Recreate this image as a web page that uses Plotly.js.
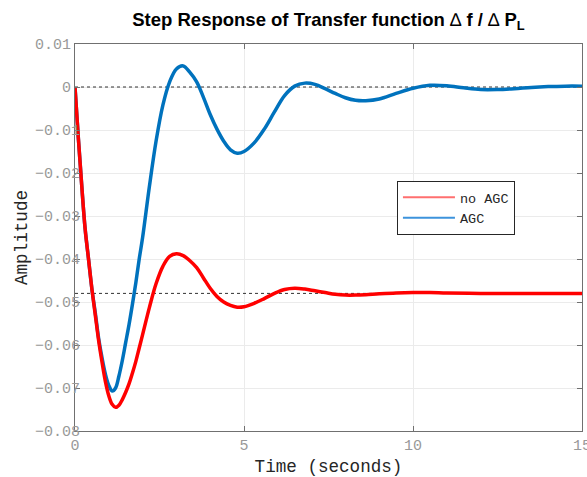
<!DOCTYPE html>
<html>
<head>
<meta charset="utf-8">
<script src="https://cdn.plot.ly/plotly-3.0.1.min.js"></script>
<style>html,body{margin:0;padding:0;background:#fff;}#chart{width:587px;height:477px;}</style>
</head>
<body>
<div id="chart"></div>
<script>
// ---- data ----
const timeNoAGC = [0,0.1,0.2,0.3,0.4,0.5,0.6,0.7,0.8,0.9,1.0,1.1,1.2,1.3,1.4,1.5,1.6,1.7,1.8,1.9,2.0,2.2,2.4,2.6,2.8,3.0,3.2,3.4,3.6,3.8,4.0,4.2,4.4,4.6,4.8,5.0,5.3,5.6,5.9,6.2,6.5,6.8,7.1,7.4,7.7,8.0,8.3,8.6,9.0,9.5,10,10.5,11,12,13,14,15];
const noAGC = [0,-0.012,-0.023,-0.033,-0.040,-0.047,-0.053,-0.059,-0.064,-0.0685,-0.0718,-0.0738,-0.0745,-0.0740,-0.0727,-0.0710,-0.0690,-0.0665,-0.0638,-0.0607,-0.0576,-0.0513,-0.0457,-0.0417,-0.0394,-0.0388,-0.0392,-0.0404,-0.0420,-0.0444,-0.0468,-0.0487,-0.0500,-0.0508,-0.0512,-0.0511,-0.0503,-0.0492,-0.0480,-0.0471,-0.0468,-0.0470,-0.0474,-0.0478,-0.0482,-0.0484,-0.0484,-0.0483,-0.0481,-0.0479,-0.0478,-0.0478,-0.0479,-0.0480,-0.0480,-0.0480,-0.0480];

const timeAGC = [0,0.1,0.2,0.3,0.4,0.5,0.6,0.7,0.8,0.9,1.0,1.1,1.2,1.3,1.4,1.5,1.6,1.7,1.8,1.9,2.0,2.2,2.4,2.6,2.8,3.0,3.2,3.4,3.6,3.8,4.0,4.2,4.4,4.6,4.8,5.0,5.3,5.6,5.9,6.2,6.5,6.8,7.1,7.4,7.7,8.0,8.3,8.6,9.0,9.5,10,10.5,11,11.5,12,12.5,13,13.5,14,14.5,15];
const withAGC = [0,-0.012,-0.023,-0.033,-0.040,-0.047,-0.0525,-0.0585,-0.0630,-0.0668,-0.0694,-0.0707,-0.0700,-0.0672,-0.0636,-0.0594,-0.0552,-0.0505,-0.0455,-0.0400,-0.0350,-0.0232,-0.0125,-0.0042,0.0012,0.0042,0.0049,0.0034,0.0012,-0.0024,-0.0064,-0.0098,-0.0126,-0.0146,-0.0154,-0.0150,-0.0130,-0.0098,-0.0058,-0.0020,0.0002,0.0009,0.0006,-0.0004,-0.0015,-0.0025,-0.0031,-0.0032,-0.0028,-0.0015,-0.0003,0.0004,0.0003,-0.0002,-0.0006,-0.0006,-0.0004,-0.0001,0.0001,0.0002,0.0002];

const steadyLevels = [0, -0.048];
const timeSpan = [0, 15];
const seriesNames = ['no AGC', 'AGC'];
const xTickVals = [0, 5, 10, 15];
const xTickText = ['0', '5', '10', '15'];
const yTickVals = [0.01, 0, -0.01, -0.02, -0.03, -0.04, -0.05, -0.06, -0.07, -0.08];
const yTickText = ['0.01\u00a0', '0\u00a0', '\u22120.01', '\u22120.02', '\u22120.03', '\u22120.04', '\u22120.05', '\u22120.06', '\u22120.07', '\u22120.08'];

// ---- traces ----
const mono = 'Liberation Mono, Courier New, monospace';
const traces = [];
steadyLevels.forEach(v => {
  traces.push({x: timeSpan, y: [v, v], mode: 'lines', showlegend: false, hoverinfo: 'skip',
    line: {color: '#333', width: 1, dash: 'dot'}});
});
traces.push({x: timeAGC, y: withAGC, mode: 'lines', name: seriesNames[1], showlegend: false,
  line: {color: '#0072bd', width: 3.5, shape: 'spline'}});
traces.push({x: timeNoAGC, y: noAGC, mode: 'lines', name: seriesNames[0], showlegend: false,
  line: {color: '#ff0000', width: 3.5, shape: 'spline'}});
// legend entries (thin lines as in the reference legend)
traces.push({x: [null], y: [null], mode: 'lines', name: seriesNames[0], legendrank: 1,
  line: {color: '#ff6f6f', width: 2}});
traces.push({x: [null], y: [null], mode: 'lines', name: seriesNames[1], legendrank: 2,
  line: {color: '#3d93dc', width: 2}});

const axisCommon = {
  showline: true, linecolor: '#707070', linewidth: 1, mirror: 'ticks',
  ticks: 'inside', ticklen: 5, tickcolor: '#707070',
  showgrid: true, gridcolor: '#ebebeb', gridwidth: 1, zeroline: false,
  ticklabeloverflow: 'allow',
  tickfont: {family: mono, size: 15, color: '#999999'}
};

const layout = {
  width: 587, height: 477,
  margin: {l: 75, r: 5, t: 44, b: 46},
  paper_bgcolor: '#fff', plot_bgcolor: '#fff',
  title: {text: 'Step Response of Transfer function <span style="font-weight:normal">\u2206</span> f / <span style="font-weight:normal">\u2206</span> P<sub>L</sub>',
    font: {family: 'Liberation Sans, Arial, sans-serif', size: 18.5, color: '#000', weight: 'bold'},
    x: 0.5, xref: 'paper', xanchor: 'center', yref: 'container'},
  xaxis: Object.assign({}, axisCommon, {range: [0, 15], tickvals: xTickVals, ticktext: xTickText,
    title: {text: 'Time (seconds)', font: {family: mono, size: 17.6, color: '#262626'}, standoff: 6}}),
  yaxis: Object.assign({}, axisCommon, {range: [-0.08, 0.01], tickvals: yTickVals, ticktext: yTickText,
    ticklabelstandoff: -9,
    title: {text: 'Amplitude', font: {family: mono, size: 17.6, color: '#262626'}, standoff: 2}}),
  showlegend: true,
  legend: {x: 0.635, y: 0.646, xanchor: 'left', yanchor: 'top', bgcolor: '#fff',
    bordercolor: '#262626', borderwidth: 1, itemwidth: 52,
    font: {family: mono, size: 13.5, color: '#262626'}, tracegroupgap: 0}
};
layout.title.y = 1 - 20 / 477;
layout.title.yanchor = 'middle';

Plotly.newPlot('chart', traces, layout, {displayModeBar: false, staticPlot: true});
</script>
</body>
</html>
